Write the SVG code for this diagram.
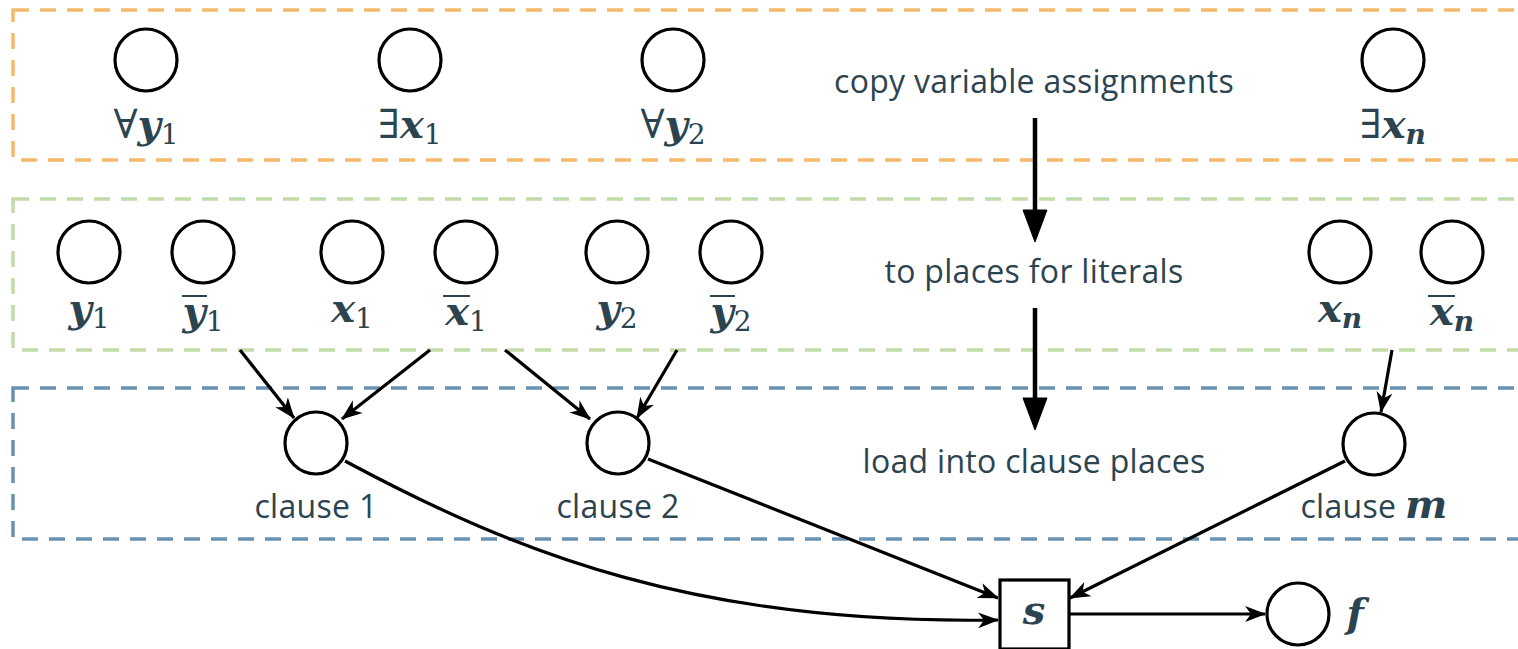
<svg xmlns="http://www.w3.org/2000/svg" width="1518" height="649" viewBox="0 0 1518 649">
<defs>
<style>
.box{fill:none;stroke-width:3.5;stroke-dasharray:16 11}
.pl{fill:#fff;stroke:#000;stroke-width:3.2}
.lbl{font-family:"Open Sans","DejaVu Sans",sans-serif;font-size:32px;fill:#2c4450;text-anchor:middle;letter-spacing:0.3px}
.m{font-family:"DejaVu Serif","Liberation Serif",serif;font-size:40px;fill:#2c4450;font-weight:bold;font-style:italic}
.sub{font-style:normal;font-weight:normal;font-size:28px}
.subi{font-weight:bold;font-style:italic;font-size:28px}
.q{font-style:normal;font-weight:normal}
.ov{stroke:#2c4450;stroke-width:2}
.c{fill:none;stroke:#000;stroke-width:3.2}
.cb{fill:none;stroke:#000;stroke-width:4.5}
</style>
<marker id="ah" markerWidth="22" markerHeight="18" refX="20" refY="9" orient="auto" markerUnits="userSpaceOnUse">
<path d="M0,1 L21,9 L0,17 L6,9 Z" fill="#000"/>
</marker>
</defs>
<g id="bands">
<rect class="box" x="13" y="10" width="1530" height="150" stroke="#f5b96b"/>
<rect class="box" x="13" y="199" width="1530" height="151" stroke="#c2dca8"/>
<rect class="box" x="13" y="388" width="1530" height="151" stroke="#6a93b3"/>
</g>
<g id="connectors">
<path d="M1035,118 V216" fill="none" stroke="#000" stroke-width="4.5"/>
<path d="M1023,210 L1047,210 L1035,242 Z" fill="#000" stroke="#000" stroke-width="1"/>
<path d="M1035,308 V404" fill="none" stroke="#000" stroke-width="4.5"/>
<path d="M1023,398 L1047,398 L1035,430 Z" fill="#000" stroke="#000" stroke-width="1"/>
<line class="c" x1="240" y1="350" x2="294" y2="418" marker-end="url(#ah)"/>
<line class="c" x1="430" y1="350" x2="342" y2="419" marker-end="url(#ah)"/>
<line class="c" x1="505" y1="350" x2="590" y2="419" marker-end="url(#ah)"/>
<line class="c" x1="677" y1="350" x2="637" y2="418" marker-end="url(#ah)"/>
<line class="c" x1="1392" y1="350" x2="1381" y2="412" marker-end="url(#ah)"/>
<path class="c" d="M345,461 C520,555 700,625 998,620" marker-end="url(#ah)"/>
<line class="c" x1="648" y1="459" x2="998" y2="598" marker-end="url(#ah)"/>
<line class="c" x1="1345" y1="461" x2="1070" y2="598" marker-end="url(#ah)"/>
<line class="c" x1="1069" y1="614" x2="1265" y2="614" marker-end="url(#ah)"/>
</g>
<g id="q-y1"><circle class="pl" cx="146" cy="60" r="31"/><text class="m" x="146" y="138" text-anchor="middle"><tspan class="q">∀</tspan>y<tspan class="sub" dy="6">1</tspan></text></g>
<g id="q-x1"><circle class="pl" cx="410" cy="60" r="31"/><text class="m" x="410" y="138" text-anchor="middle"><tspan class="q">∃</tspan>x<tspan class="sub" dy="6">1</tspan></text></g>
<g id="q-y2"><circle class="pl" cx="673" cy="60" r="31"/><text class="m" x="673" y="138" text-anchor="middle"><tspan class="q">∀</tspan>y<tspan class="sub" dy="6">2</tspan></text></g>
<g id="q-xn"><circle class="pl" cx="1393" cy="60" r="31"/><text class="m" x="1393" y="138" text-anchor="middle"><tspan class="q">∃</tspan>x<tspan class="subi" dy="6">n</tspan></text></g>
<g id="label-copy"><text class="lbl" x="1034" y="93">copy variable assignments</text></g>
<g id="label-literals"><text class="lbl" x="1034" y="283">to places for literals</text></g>
<g id="label-load"><text class="lbl" x="1034" y="473">load into clause places</text></g>
<g id="lit-y1"><circle class="pl" cx="89" cy="252" r="31"/><text class="m" x="89" y="322" text-anchor="middle">y<tspan class="sub" dy="6">1</tspan></text></g>
<g id="lit-ny1"><circle class="pl" cx="203" cy="252" r="31"/><text class="m" x="203" y="325" text-anchor="middle">y<tspan class="sub" dy="6">1</tspan></text><line class="ov" x1="182" y1="296" x2="207" y2="296"/></g>
<g id="lit-x1"><circle class="pl" cx="352" cy="252" r="31"/><text class="m" x="352" y="322" text-anchor="middle">x<tspan class="sub" dy="6">1</tspan></text></g>
<g id="lit-nx1"><circle class="pl" cx="466" cy="252" r="31"/><text class="m" x="466" y="325" text-anchor="middle">x<tspan class="sub" dy="6">1</tspan></text><line class="ov" x1="443" y1="296" x2="470" y2="296"/></g>
<g id="lit-y2"><circle class="pl" cx="617" cy="252" r="31"/><text class="m" x="617" y="322" text-anchor="middle">y<tspan class="sub" dy="6">2</tspan></text></g>
<g id="lit-ny2"><circle class="pl" cx="731" cy="252" r="31"/><text class="m" x="731" y="325" text-anchor="middle">y<tspan class="sub" dy="6">2</tspan></text><line class="ov" x1="710" y1="296" x2="735" y2="296"/></g>
<g id="lit-xn"><circle class="pl" cx="1340" cy="252" r="31"/><text class="m" x="1340" y="322" text-anchor="middle">x<tspan class="subi" dy="6">n</tspan></text></g>
<g id="lit-nxn"><circle class="pl" cx="1452" cy="252" r="31"/><text class="m" x="1452" y="325" text-anchor="middle">x<tspan class="subi" dy="6">n</tspan></text><line class="ov" x1="1428" y1="296" x2="1455" y2="296"/></g>
<g id="clause1"><circle class="pl" cx="316" cy="443" r="31"/><text class="lbl" x="316" y="518">clause 1</text></g>
<g id="clause2"><circle class="pl" cx="618" cy="443" r="31"/><text class="lbl" x="618" y="518">clause 2</text></g>
<g id="clausem"><circle class="pl" cx="1374" cy="444" r="31"/><text class="lbl" x="1374" y="518">clause <tspan class="m" font-size="36">m</tspan></text></g>
<g id="s"><rect class="pl" x="1000" y="580" width="69" height="69"/><text class="m" x="1034" y="624" text-anchor="middle" font-size="34">s</text></g>
<g id="f"><circle class="pl" cx="1298" cy="614" r="31"/><text class="m" x="1355" y="627" text-anchor="middle">f</text></g>
</svg>
